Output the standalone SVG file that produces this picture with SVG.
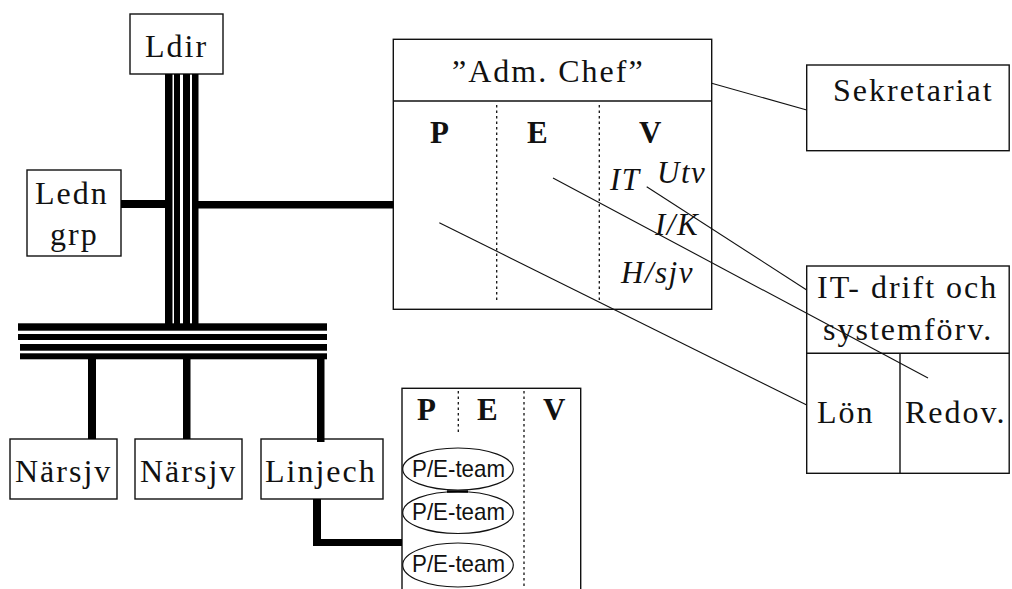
<svg xmlns="http://www.w3.org/2000/svg" width="1012" height="589" viewBox="0 0 1012 589">
<style>
.box{fill:#fff;stroke:#111;stroke-width:1.4}
.t{font-family:"Liberation Serif","Times New Roman",serif;font-size:32px;letter-spacing:2px;fill:#111}
.b{font-family:"Liberation Serif","Times New Roman",serif;font-size:31px;font-weight:bold;fill:#111}
.i{font-family:"Liberation Serif","Times New Roman",serif;font-size:31px;font-style:italic;letter-spacing:1.5px;fill:#111}
.s{font-family:"Liberation Sans Narrow","Liberation Sans",Arial,sans-serif;font-size:24px;fill:#111}
.dot{stroke:#111;stroke-width:1.3;stroke-dasharray:2.5,3;fill:none}
.thin{stroke:#111;stroke-width:1.1;fill:none}
.thick{fill:#000}
.ell{fill:none;stroke:#111;stroke-width:1.2}
</style>
<rect width="1012" height="589" fill="#fff"/>
<g id="ldir">
  <rect class="box" x="130" y="14" width="93" height="60"/>
  <text class="t" x="145" y="57">Ldir</text>
</g>
<g id="ledngrp">
  <rect class="box" x="27" y="170" width="94" height="86"/>
  <text class="t" x="35" y="204">Ledn</text>
  <text class="t" x="50" y="245">grp</text>
</g>
<g id="admchef">
  <rect class="box" x="393.3" y="39.3" width="318.4" height="270"/>
  <line class="thin" x1="393.3" y1="101" x2="711.7" y2="101" style="stroke-width:1.4"/>
  <text class="t" x="452" y="82">”Adm. Chef”</text>
  <line class="dot" x1="496.7" y1="105" x2="496.7" y2="303"/>
  <line class="dot" x1="599.3" y1="105" x2="599.3" y2="303"/>
  <text class="b" x="430" y="143">P</text>
  <text class="b" x="527" y="143">E</text>
  <text class="b" x="639" y="143">V</text>
  <text class="i" x="610" y="190">IT</text>
  <text class="i" x="657" y="183">Utv</text>
  <text class="i" x="655" y="235">I/K</text>
  <text class="i" x="621" y="283">H/sjv</text>
</g>
<g id="sekretariat">
  <rect class="box" x="806.7" y="65" width="202.5" height="85.7"/>
  <text class="t" x="833" y="101">Sekretariat</text>
</g>
<g id="itdrift">
  <rect class="box" x="806.7" y="266" width="202.5" height="207.3"/>
  <line class="thin" x1="806.7" y1="353.3" x2="1009.2" y2="353.3" style="stroke-width:1.4"/>
  <line class="thin" x1="900" y1="353.3" x2="900" y2="473.3" style="stroke-width:1.4"/>
  <text class="t" x="817" y="298">IT- drift och</text>
  <text class="t" x="823" y="340">systemförv.</text>
  <text class="t" x="817" y="423">Lön</text>
  <text class="t" x="905" y="423">Redov.</text>
</g>
<g id="narsjv1">
  <rect class="box" x="10" y="439" width="107" height="60"/>
  <text class="t" x="15" y="482">Närsjv</text>
</g>
<g id="narsjv2">
  <rect class="box" x="135" y="439" width="107" height="60"/>
  <text class="t" x="140" y="482">Närsjv</text>
</g>
<g id="linjech">
  <rect class="box" x="261" y="439" width="122" height="60"/>
  <text class="t" x="265" y="482">Linjech</text>
</g>
<g id="pev">
  <rect class="box" x="402" y="388.3" width="178.7" height="230"/>
  <line class="dot" x1="458.3" y1="391" x2="458.3" y2="435"/>
  <line class="dot" x1="524" y1="391" x2="524" y2="589"/>
  <text class="b" x="417" y="420">P</text>
  <text class="b" x="477" y="420">E</text>
  <text class="b" x="543" y="420">V</text>
  <ellipse class="ell" cx="458" cy="469" rx="55.3" ry="21"/>
  <ellipse class="ell" cx="458" cy="512.5" rx="55.3" ry="21"/>
  <ellipse class="ell" cx="458" cy="565" rx="55.3" ry="22"/>
  <line x1="447" y1="491.5" x2="468" y2="491.5" stroke="#000" stroke-width="2.5"/>
  <text class="s" x="412" y="477" textLength="93" lengthAdjust="spacingAndGlyphs">P/E-team</text>
  <text class="s" x="412" y="520" textLength="93" lengthAdjust="spacingAndGlyphs">P/E-team</text>
  <text class="s" x="412" y="572" textLength="93" lengthAdjust="spacingAndGlyphs">P/E-team</text>
</g>
<g id="connectors">
  <rect class="thick" x="165" y="74" width="7.5" height="250"/>
  <rect class="thick" x="174" y="74" width="6" height="250"/>
  <rect class="thick" x="183" y="74" width="7" height="250"/>
  <rect class="thick" x="192" y="74" width="6.5" height="250"/>
  <rect class="thick" x="121" y="200" width="44" height="8"/>
  <rect class="thick" x="198" y="201" width="195.5" height="7.5"/>
  <rect class="thick" x="18" y="323.3" width="309" height="7.4"/>
  <rect class="thick" x="18" y="334" width="309" height="6"/>
  <rect class="thick" x="20" y="344" width="307" height="6.7"/>
  <rect class="thick" x="20" y="353.3" width="307" height="6"/>
  <rect class="thick" x="88" y="359" width="8" height="80"/>
  <rect class="thick" x="183" y="359" width="7.5" height="80"/>
  <rect class="thick" x="317" y="359" width="7.5" height="83"/>
  <rect class="thick" x="313" y="499" width="8" height="47"/>
  <rect class="thick" x="313" y="539" width="89" height="7"/>
  <line class="thin" x1="711.7" y1="83.3" x2="806.7" y2="110"/>
  <line class="thin" x1="553" y1="178" x2="928" y2="378"/>
  <line class="thin" x1="646.7" y1="186.7" x2="806.7" y2="290"/>
  <line class="thin" x1="439.3" y1="222.7" x2="806.7" y2="405"/>
</g>
</svg>
